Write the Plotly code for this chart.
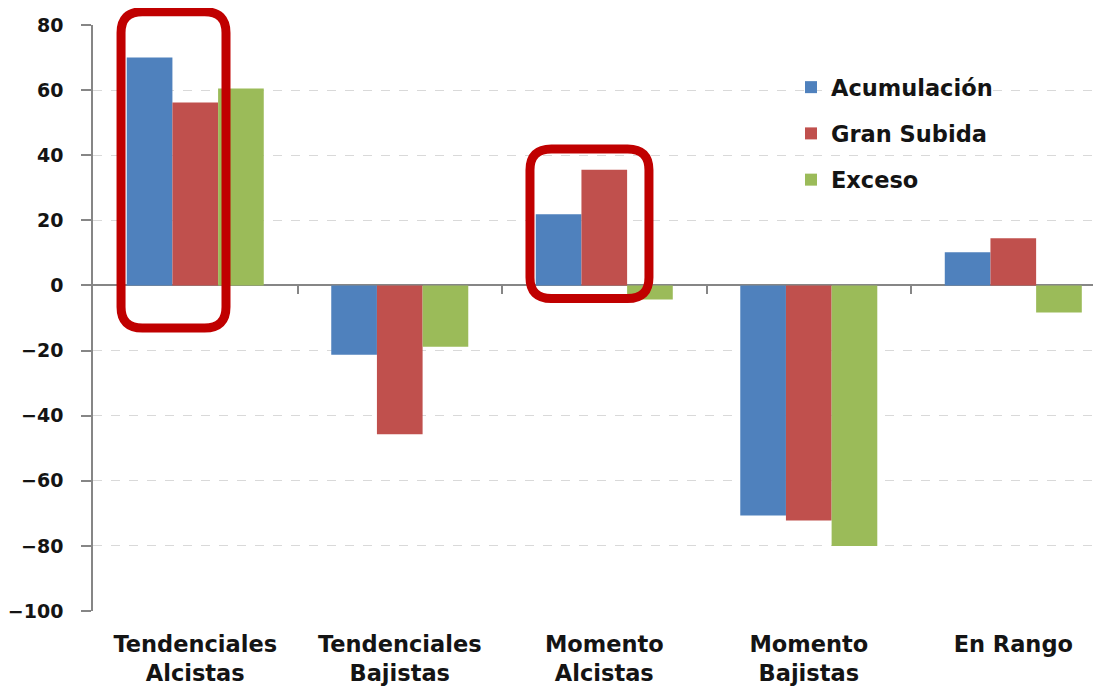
import plotly.graph_objects as go

categories = ["Tendenciales<br>Alcistas", "Tendenciales<br>Bajistas", "Momento<br>Alcistas",
              "Momento<br>Bajistas", "En Rango"]
acumulacion = [70.0, -21.3, 21.9, -70.7, 10.2]
gran_subida = [56.2, -45.7, 35.5, -72.2, 14.5]
exceso = [60.5, -18.8, -4.3, -80.0, -8.3]

series = [
    ("Acumulación", acumulacion, "#4F81BD"),
    ("Gran Subida", gran_subida, "#C0504D"),
    ("Exceso", exceso, "#9BBB59"),
]

# red highlight boxes, in paper units: (x0, x1, y0, y1)
highlights = [(0.0276, 0.1309, 0.4829, 1.0227), (0.4301, 0.5472, 0.5333, 0.7884)]

FONT = "DejaVu Sans"
GRAY = "#868686"
TXT = "#141414"

fig = go.Figure()
for i, (name, vals, color) in enumerate(series):
    fig.add_trace(go.Bar(
        name=name,
        x=list(range(len(categories))),
        y=vals,
        marker=dict(color=color, line=dict(width=0)),
        legendgroup=f"g{i}",
    ))

# empty trace so the tick-only axis on the zero line gets drawn
fig.add_trace(go.Scatter(x=list(range(len(categories))), y=[None] * len(categories),
                         xaxis="x2", showlegend=False, hoverinfo="skip"))


def rounded_rect(x0, x1, y0, y1, rx, ry):
    return (f"M {x0 + rx} {y1} L {x1 - rx} {y1} Q {x1} {y1} {x1} {y1 - ry} "
            f"L {x1} {y0 + ry} Q {x1} {y0} {x1 - rx} {y0} "
            f"L {x0 + rx} {y0} Q {x0} {y0} {x0} {y0 + ry} "
            f"L {x0} {y1 - ry} Q {x0} {y1} {x0 + rx} {y1} Z")


for x0, x1, y0, y1 in highlights:
    fig.add_shape(type="path", xref="paper", yref="paper",
                  path=rounded_rect(x0, x1, y0, y1, 0.021, 0.036),
                  line=dict(color="#C00000", width=9), layer="above")

fig.update_layout(
    width=1101, height=687,
    margin=dict(l=85, r=0, t=17, b=84),
    paper_bgcolor="white", plot_bgcolor="white",
    barmode="group", bargap=0.33, bargroupgap=0,
    font=dict(family=FONT, color=TXT, size=20, weight="bold"),
    showlegend=True,
    legend=dict(x=0.687, y=0.93, xanchor="left", yanchor="top",
                font=dict(family=FONT, size=22.5, weight="bold", color=TXT),
                tracegroupgap=14, bgcolor="rgba(0,0,0,0)",
                itemwidth=30),
    xaxis=dict(
        tickmode="array", tickvals=list(range(len(categories))), ticktext=categories,
        range=[-0.5, 4.468], showline=False, showgrid=False, zeroline=False,
        ticks="", ticklabelstandoff=17,
        tickfont=dict(family=FONT, size=22.5, weight="bold", color=TXT),
    ),
    xaxis2=dict(
        overlaying="x", matches="x", anchor="free", position=(100 / 180),
        tickmode="array", tickvals=[0.5, 1.5, 2.5, 3.5], showticklabels=False,
        ticks="outside", ticklen=8, tickcolor=GRAY, tickwidth=1.5,
        showline=False, showgrid=False, zeroline=False,
    ),
    yaxis=dict(
        range=[-100, 80], dtick=20, tickformat="d",
        showline=True, linecolor=GRAY, linewidth=1.5,
        ticks="outside", ticklen=10, tickcolor=GRAY, tickwidth=1.5,
        ticklabelstandoff=14,
        showgrid=True, gridcolor="#D9D9D9", griddash="dash", gridwidth=1.2,
        zeroline=True, zerolinecolor=GRAY, zerolinewidth=1.5,
        tickfont=dict(family=FONT, size=19, weight="bold", color=TXT),
    ),
)

fig.write_html("out.html")
